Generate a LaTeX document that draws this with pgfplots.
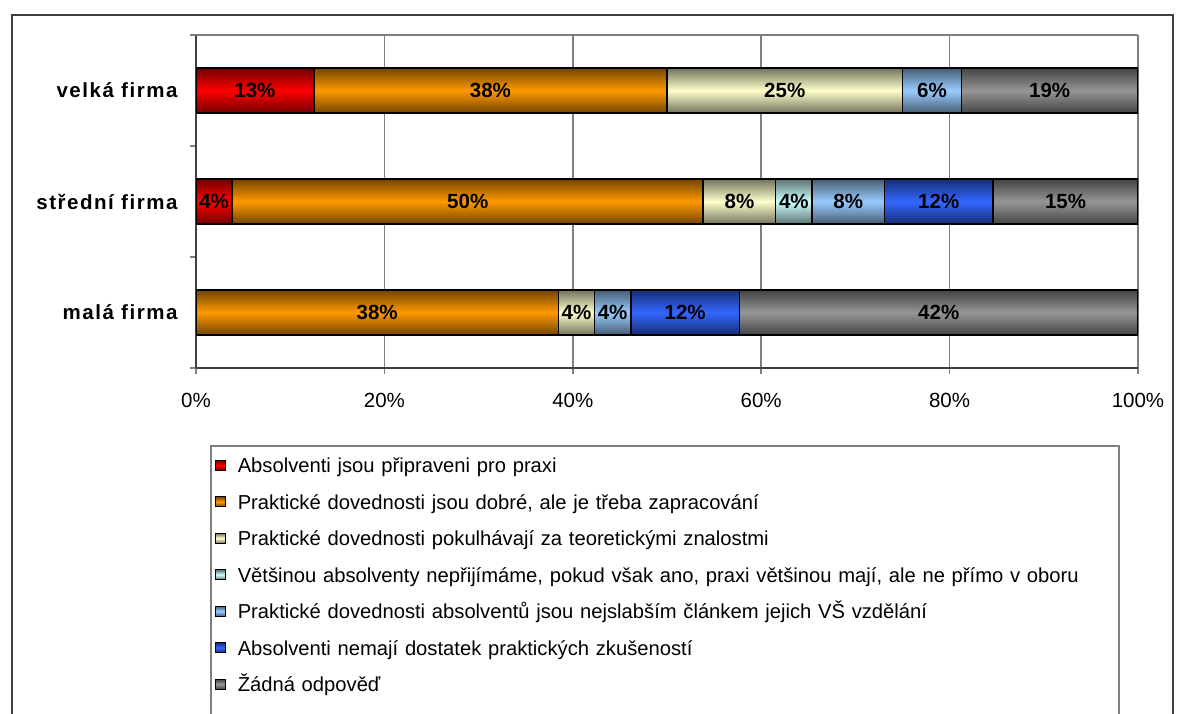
\documentclass[border=0pt]{standalone}
\usepackage{pgfplots}
\pgfplotsset{compat=1.18}
\usepackage{fontspec}
\setmainfont{Liberation Sans}
\newfontfamily\catfont[LetterSpace=7.5]{Liberation Sans}
\definecolor{cRed}{HTML}{FF0000}
\definecolor{cOrange}{HTML}{FF9900}
\definecolor{cCream}{HTML}{FFFFCC}
\definecolor{cCyan}{HTML}{CCFFFF}
\definecolor{cLBlue}{HTML}{99CCFF}
\definecolor{cBlue}{HTML}{3366FF}
\definecolor{cGray}{HTML}{969696}
\definecolor{frameC}{HTML}{404040}
\definecolor{gridC}{HTML}{808080}
\newcommand{\fs}{\fontsize{20.5}{24}\selectfont}
\newcommand{\lfs}{\fontsize{20.2}{24}\selectfont}
\pgfplotsset{
  shbar/.style={fill=#1, top color=#1!45!black, bottom color=#1!45!black, middle color=#1, draw=black, line width=1.5pt},
  base/.style={at={(196pt,-368pt)}, anchor=south west,
    scale only axis, width=942pt, height=333pt,
    xmin=0, xmax=100, ymin=-0.5, ymax=2.5},
  bars/.style={base, xbar stacked, bar width=45pt},
}
\begin{document}
\begin{tikzpicture}
\path[use as bounding box] (0,0) rectangle (1186pt,-713pt);
\clip (0,0) rectangle (1186pt,-713pt);
\draw[frameC, line width=1.5pt] (12pt,-720pt) -- (12pt,-15pt) -- (1173pt,-15pt) -- (1173pt,-720pt);
% velka firma + axis decorations + legend
\begin{axis}[bars,
  axis x line*=bottom, axis y line*=left,
  axis line style={frameC, line width=1.5pt},
  xtick={0,20,40,60,80,100},
  xticklabels={0\%,20\%,40\%,60\%,80\%,100\%},
  xticklabel style={font=\fs, yshift=-16pt},
  ytick={-0.5,0.5,1.5,2.5}, yticklabels={},
  extra y ticks={0,1,2},
  extra y tick labels={malá firma, střední firma, velká firma},
  extra y tick style={major tick length=0pt, yticklabel style={font=\catfont\bfseries\fs, xshift=-15pt}},
  tick align=outside, major tick length=6pt,
  tick style={gridC, line width=1.5pt},
  xmajorgrids, major x grid style={gridC, line width=1.5pt},
  after end axis/.code={\draw[gridC, line width=1.5pt] (rel axis cs:0,1) -- (rel axis cs:1,1);},
  legend style={at={(0.01486,-0.2312)}, anchor=north west, draw=gridC, line width=1.5pt,
    font=\lfs, inner xsep=4pt, inner ysep=12pt, row sep=7.5pt,
    nodes={inner xsep=0pt, inner ysep=0pt, text height=15pt, text depth=14pt},
    /tikz/every odd column/.append style={column sep=12pt},
    /tikz/every even column/.append style={text width=877pt}},
  legend cell align=left,
  legend image code/.code={\draw[#1, line width=1pt] (0pt,2pt) rectangle (10pt,12pt);},
]
\addplot[shbar=cRed] coordinates {(12.5,2)};
\addplot[shbar=cOrange] coordinates {(37.5,2)};
\addplot[shbar=cCream] coordinates {(25,2)};
\addlegendimage{shbar=cCyan}
\addplot[shbar=cLBlue] coordinates {(6.25,2)};
\addlegendimage{shbar=cBlue}
\addplot[shbar=cGray] coordinates {(18.75,2)};
\legend{Absolventi jsou připraveni pro praxi,
{Praktické dovednosti jsou dobré, ale je třeba zapracování},
Praktické dovednosti pokulhávají za teoretickými znalostmi,
{Většinou absolventy nepřijímáme, pokud však ano, praxi většinou mají, ale ne přímo v oboru},
Praktické dovednosti absolventů jsou nejslabším článkem jejich VŠ vzdělání,
Absolventi nemají dostatek praktických zkušeností,
Žádná odpověď}
\end{axis}
% stredni firma
\begin{axis}[bars, hide axis]
\addplot[shbar=cRed] coordinates {(3.846,1)};
\addplot[shbar=cOrange] coordinates {(50,1)};
\addplot[shbar=cCream] coordinates {(7.692,1)};
\addplot[shbar=cCyan] coordinates {(3.846,1)};
\addplot[shbar=cLBlue] coordinates {(7.692,1)};
\addplot[shbar=cBlue] coordinates {(11.538,1)};
\addplot[shbar=cGray] coordinates {(15.385,1)};
\end{axis}
% mala firma
\begin{axis}[bars, hide axis]
\addplot[shbar=cOrange] coordinates {(38.462,0)};
\addplot[shbar=cCream] coordinates {(3.846,0)};
\addplot[shbar=cLBlue] coordinates {(3.846,0)};
\addplot[shbar=cBlue] coordinates {(11.538,0)};
\addplot[shbar=cGray] coordinates {(42.308,0)};
\end{axis}
% data labels at segment centres
\begin{axis}[base, hide axis, clip=false]
\addplot[draw=none, mark=none, point meta=explicit symbolic, nodes near coords,
  every node near coord/.append style={font=\bfseries\fs, anchor=center}]
  coordinates {
  (6.25,2) [13\%] (31.25,2) [38\%] (62.5,2) [25\%] (78.125,2) [6\%] (90.625,2) [19\%]
  (1.923,1) [4\%] (28.846,1) [50\%] (57.692,1) [8\%] (63.462,1) [4\%] (69.231,1) [8\%] (78.846,1) [12\%] (92.308,1) [15\%]
  (19.231,0) [38\%] (40.385,0) [4\%] (44.231,0) [4\%] (51.923,0) [12\%] (78.846,0) [42\%]
  };
\end{axis}
\end{tikzpicture}
\end{document}
